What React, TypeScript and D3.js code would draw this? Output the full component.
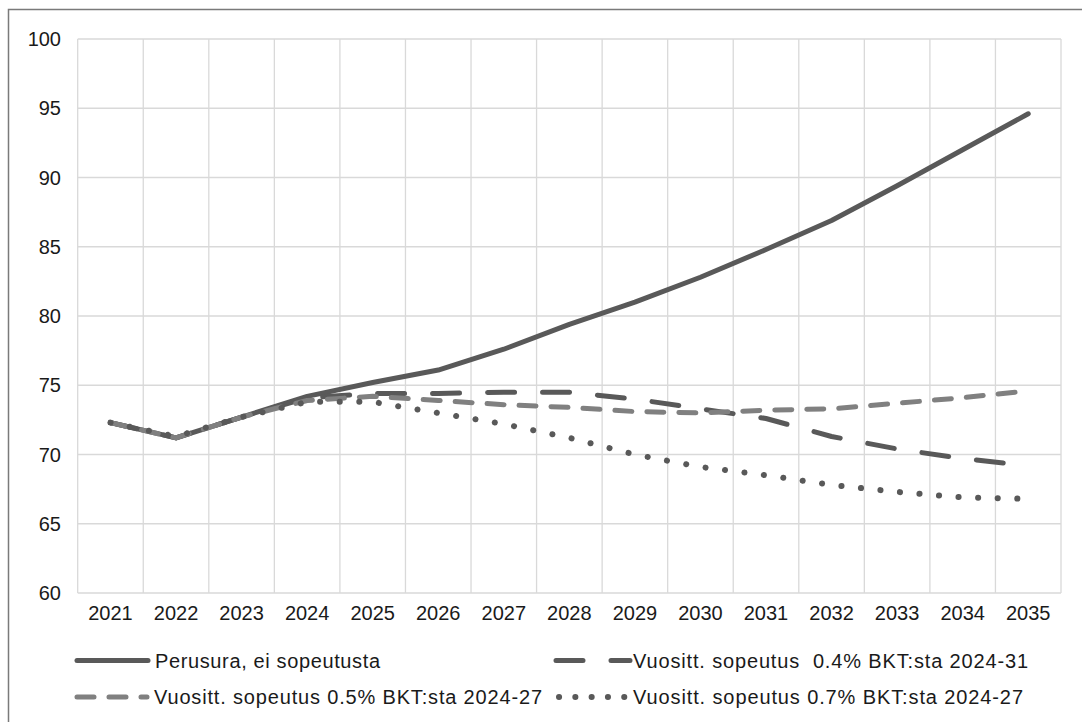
import { useEffect, useRef } from "react";
import * as d3 from "d3";

const years = [
  "2021", "2022", "2023", "2024", "2025", "2026", "2027", "2028",
  "2029", "2030", "2031", "2032", "2033", "2034", "2035",
];

const perusura = [72.3, 71.2, 72.7, 74.2, 75.2, 76.1, 77.6, 79.4, 81.0, 82.8, 84.8, 86.9, 89.4, 92.0, 94.6];
const sopeutus04 = [72.3, 71.2, 72.7, 74.1, 74.4, 74.4, 74.5, 74.5, 74.0, 73.3, 72.6, 71.3, 70.4, 69.7, 69.2];
const sopeutus05 = [72.3, 71.2, 72.7, 73.9, 74.2, 73.9, 73.6, 73.4, 73.1, 73.0, 73.2, 73.3, 73.7, 74.1, 74.6];
const sopeutus07 = [72.3, 71.3, 72.7, 73.8, 73.8, 73.0, 72.2, 71.2, 70.0, 69.1, 68.5, 67.8, 67.3, 66.9, 66.8];

const yTicks = [60, 65, 70, 75, 80, 85, 90, 95, 100];

const seriesNames = [
  "Perusura, ei sopeutusta",
  "Vuositt. sopeutus  0.4% BKT:sta 2024-31",
  "Vuositt. sopeutus 0.5% BKT:sta 2024-27",
  "Vuositt. sopeutus 0.7% BKT:sta 2024-27",
];

const FONT = "'Liberation Sans', Arial, Helvetica, sans-serif";

export default function App() {
  const svgRef = useRef<SVGSVGElement>(null);

  useEffect(() => {
    document.body.style.margin = "0";
    if (!svgRef.current) return;
    const width = 1082;
    const height = 722;
    const svg = d3.select(svgRef.current);
    svg.selectAll("*").remove();
    svg.attr("width", width).attr("height", height);

    // plot area
    const left = 77.7;
    const right = 1061;
    const top = 39;
    const bottom = 593;

    const x = d3.scaleBand().domain(years).range([left, right]);
    const y = d3.scaleLinear().domain([60, 100]).range([bottom, top]);

    // outer frame (only top and left are visible)
    svg.append("path")
      .attr("d", `M8.5,${height + 2} L8.5,9.5 L${width + 2},9.5`)
      .attr("fill", "none")
      .attr("stroke", "#7a7a7a")
      .attr("stroke-width", 1.5);

    // grid
    const grid = svg.append("g");
    yTicks.forEach((t) => {
      grid.append("line")
        .attr("x1", left).attr("x2", right)
        .attr("y1", y(t)).attr("y2", y(t))
        .attr("stroke", "#d9d9d9").attr("stroke-width", 1.3);
    });
    const bounds = years.map((yr) => x(yr) as number).concat([right]);
    bounds.forEach((bx) => {
      grid.append("line")
        .attr("x1", bx).attr("x2", bx)
        .attr("y1", top).attr("y2", bottom)
        .attr("stroke", "#d9d9d9").attr("stroke-width", 1.3);
    });

    // axis labels
    yTicks.forEach((t) => {
      svg.append("text")
        .attr("x", 61)
        .attr("y", y(t))
        .attr("dy", "0.35em")
        .attr("text-anchor", "end")
        .attr("font-family", FONT)
        .attr("font-size", 20)
        .attr("fill", "#1a1a1a")
        .text(t);
    });
    years.forEach((yr) => {
      svg.append("text")
        .attr("x", (x(yr) as number) + x.bandwidth() / 2)
        .attr("y", 620)
        .attr("text-anchor", "middle")
        .attr("font-family", FONT)
        .attr("font-size", 20)
        .attr("fill", "#1a1a1a")
        .text(yr);
    });

    const cx = (i: number) => (x(years[i]) as number) + x.bandwidth() / 2;
    const line = d3
      .line<number>()
      .x((_, i) => cx(i))
      .y((d) => y(d));

    const styles = [
      { data: perusura, color: "#595959", width: 5, dash: null as string | null },
      { data: sopeutus04, color: "#595959", width: 5, dash: "27,28" },
      { data: sopeutus05, color: "#808080", width: 5, dash: "17,15" },
      { data: sopeutus07, color: "#595959", width: 6, dash: "0.1,19.5" },
    ];

    styles.forEach((s) => {
      const p = svg.append("path")
        .datum(s.data)
        .attr("fill", "none")
        .attr("stroke", s.color)
        .attr("stroke-width", s.width)
        .attr("stroke-linecap", "round")
        .attr("stroke-linejoin", "round")
        .attr("d", line);
      if (s.dash) p.attr("stroke-dasharray", s.dash);
    });

    // legend
    const legendItems = [
      { x1: 77, x2: 148, ty: 660.5, tx: 155, len: 225, dash: null as string | null, w: 5 },
      { x1: 556, x2: 630, ty: 660.5, tx: 633, len: 395, dash: "27,28", w: 5 },
      { x1: 77, x2: 147, ty: 697, tx: 154, len: 388, dash: "17,15", w: 5 },
      { x1: 559, x2: 625, ty: 697, tx: 633, len: 390, dash: "0.1,16.2", w: 6 },
    ];
    legendItems.forEach((it, i) => {
      const l = svg.append("line")
        .attr("x1", it.x1).attr("x2", it.x2)
        .attr("y1", it.ty).attr("y2", it.ty)
        .attr("stroke", styles[i].color)
        .attr("stroke-width", it.w)
        .attr("stroke-linecap", "round");
      if (it.dash) l.attr("stroke-dasharray", it.dash);
      svg.append("text")
        .attr("x", it.tx)
        .attr("y", it.ty)
        .attr("dy", "0.35em")
        .attr("font-family", FONT)
        .attr("font-size", 20)
        .attr("fill", "#1a1a1a")
        .attr("textLength", it.len)
        .attr("lengthAdjust", "spacing")
        .style("white-space", "pre")
        .text(seriesNames[i]);
    });
  }, []);

  return <svg ref={svgRef} style={{ display: "block" }} />;
}
